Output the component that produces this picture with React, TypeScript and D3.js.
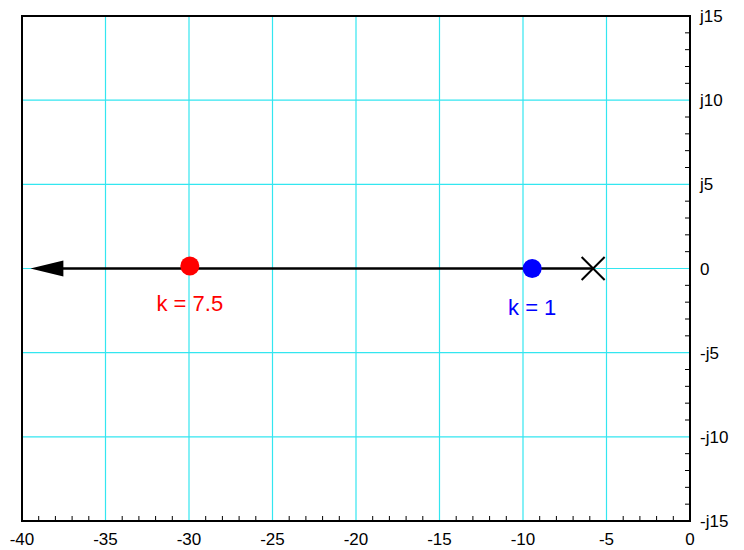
import React from "react";
import * as d3 from "d3";

// Root locus along the real axis, closed-loop pole positions for two gains
const openLoopPole = { re: -5.8, im: 0 };
const gainLabels = ["k = 1", "k = 7.5"];
const gainPoleRe = [-9.45, -29.95];
const gainPoleIm = [0, 0.15];
const gainColors = ["#0000ff", "#ff0000"];
const gainLabelDy = [46, 42];
const locusEnd = -39.5;

const xTicks = [-40, -35, -30, -25, -20, -15, -10, -5, 0];
const yTicks = [15, 10, 5, 0, -5, -10, -15];
const yTickLabels = ["j15", "j10", "j5", "0", "-j5", "-j10", "-j15"];

const W = 744;
const H = 550;
const M = { left: 22, right: 54, top: 16, bottom: 29 };

export default function App() {
  const x = d3.scaleLinear().domain([-40, 0]).range([M.left, W - M.right]);
  const y = d3.scaleLinear().domain([-15, 15]).range([H - M.bottom, M.top]);
  const minorX = d3.range(-40, 1, 1).filter((v) => v % 5 !== 0);
  const minorY = d3.range(-15, 16, 1).filter((v) => v % 5 !== 0);
  const font = "Liberation Sans, Arial, sans-serif";
  const x0 = x.range()[0];
  const x1 = x.range()[1];
  const yTop = y.range()[1];
  const yBot = y.range()[0];
  const y0 = y(0);

  const arrowTip = x(locusEnd);
  const arrowBase = arrowTip + 33;
  const px = x(openLoopPole.re);
  const py = y(openLoopPole.im);
  const xs = 11.5;

  return (
    <svg width={W} height={H} style={{ position: "absolute", left: 0, top: 0 }}>
      <rect width={W} height={H} fill="#fff" />
      {/* grid */}
      {xTicks.map((v) => (
        <line key={"gx" + v} x1={x(v)} x2={x(v)} y1={yTop} y2={yBot} stroke="#33e6f0" strokeWidth={1.2} />
      ))}
      {yTicks.map((v) => (
        <line key={"gy" + v} x1={x0} x2={x1} y1={y(v)} y2={y(v)} stroke="#33e6f0" strokeWidth={1.2} />
      ))}
      {/* minor ticks */}
      {minorX.map((v) => (
        <line key={"mx" + v} x1={x(v)} x2={x(v)} y1={yBot} y2={yBot - 5} stroke="#000" strokeWidth={1} />
      ))}
      {minorY.map((v) => (
        <line key={"my" + v} x1={x1} x2={x1 - 5} y1={y(v)} y2={y(v)} stroke="#000" strokeWidth={1} />
      ))}
      {/* frame */}
      <rect x={x0} y={yTop} width={x1 - x0} height={yBot - yTop} fill="none" stroke="#000" strokeWidth={2} />
      {/* locus */}
      <line x1={arrowBase - 2} x2={px} y1={y0} y2={y0} stroke="#000" strokeWidth={2.5} />
      <path d={`M${arrowTip},${y0} L${arrowBase},${y0 - 8} L${arrowBase},${y0 + 8} Z`} fill="#000" />
      <path
        d={`M${px - xs},${py - xs} L${px + xs},${py + xs} M${px - xs},${py + xs} L${px + xs},${py - xs}`}
        stroke="#000"
        strokeWidth={2}
        fill="none"
      />
      {gainPoleRe.map((re, i) => (
        <g key={"g" + i}>
          <circle cx={x(re)} cy={y(gainPoleIm[i])} r={9.5} fill={gainColors[i]} />
          <text
            x={x(re)}
            y={y(0) + gainLabelDy[i]}
            fill={gainColors[i]}
            fontFamily={font}
            fontSize={22}
            textAnchor="middle"
          >
            {gainLabels[i]}
          </text>
        </g>
      ))}
      {/* tick labels */}
      {xTicks.map((v) => (
        <text key={"tx" + v} x={x(v)} y={H - 5} fontFamily={font} fontSize={17} textAnchor="middle">
          {String(v)}
        </text>
      ))}
      {yTicks.map((v, i) => (
        <text key={"ty" + v} x={x1 + 10} y={y(v) + 6} fontFamily={font} fontSize={17}>
          {yTickLabels[i]}
        </text>
      ))}
    </svg>
  );
}
